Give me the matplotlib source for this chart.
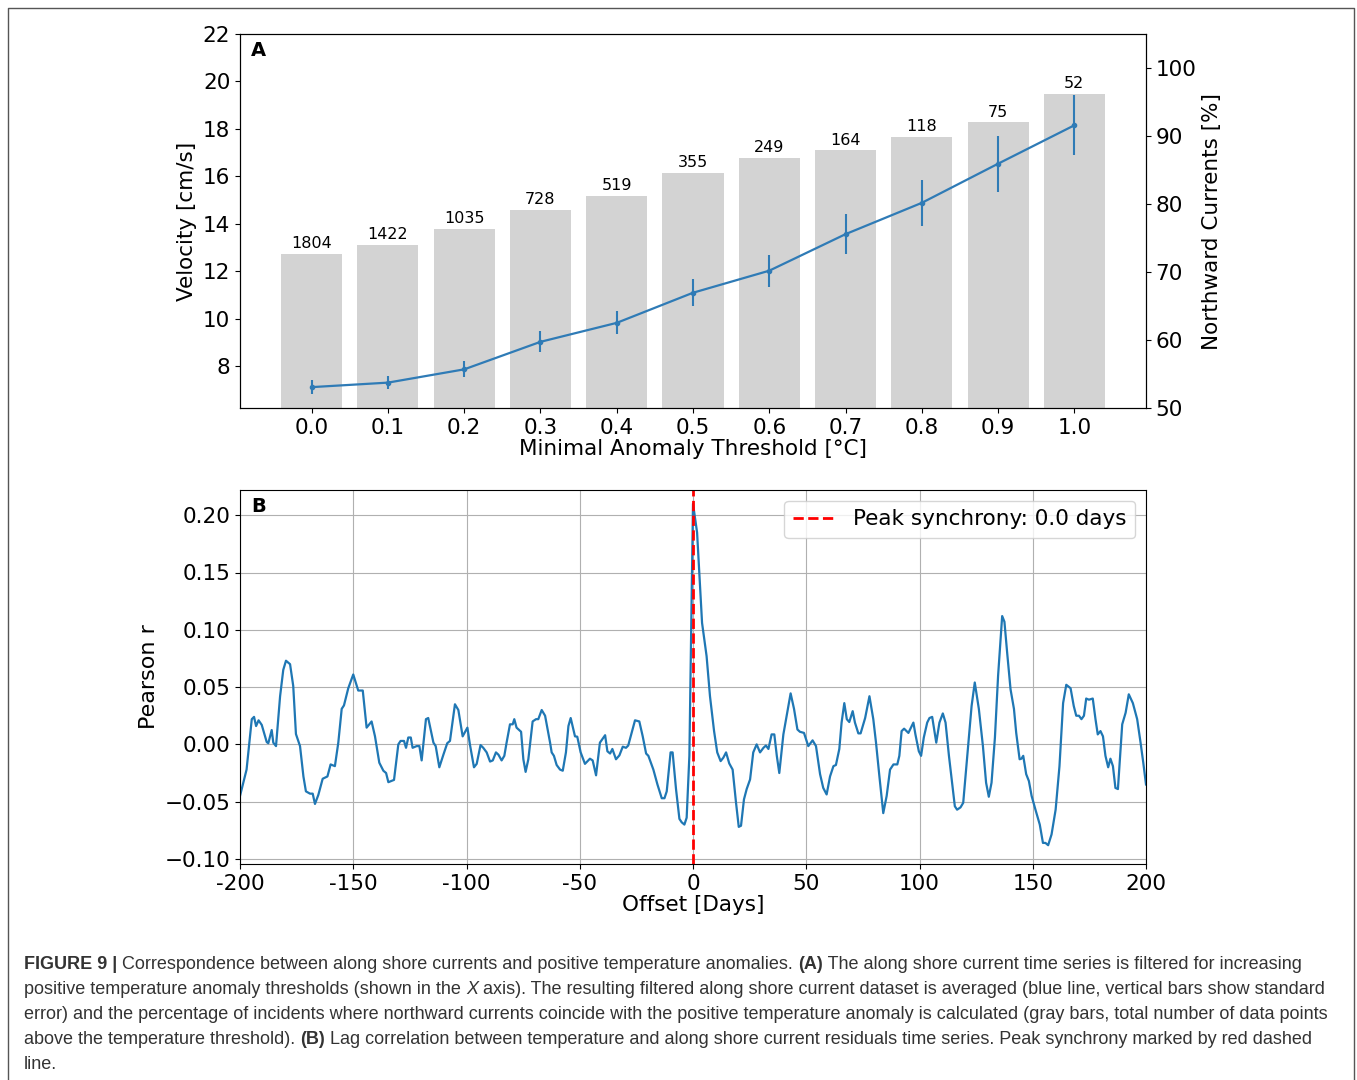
import matplotlib
matplotlib.use("Agg")
import matplotlib.pyplot as plt
from matplotlib import font_manager
from matplotlib.lines import Line2D

# Panel A data
thresholds = [0.0, 0.1, 0.2, 0.3, 0.4, 0.5, 0.6, 0.7, 0.8, 0.9, 1.0]
northward_pct = [72.7, 74.0, 76.3, 79.1, 81.2, 84.6, 86.8, 87.9, 89.9, 92.0, 96.2]
n_points = [1804, 1422, 1035, 728, 519, 355, 249, 164, 118, 75, 52]
velocity = [7.11, 7.30, 7.86, 9.02, 9.82, 11.09, 12.02, 13.56, 14.88, 16.53, 18.15]
velocity_err = [0.28, 0.28, 0.34, 0.44, 0.49, 0.57, 0.68, 0.85, 0.97, 1.18, 1.27]

# Panel B data (lag correlation)
lag_days = [
    -200.0, -197.1, -194.8, -193.8, -192.9, -191.8, -190.4, -188.2, -187.5, -186.0,
    -185.3, -184.1, -182.3, -180.9, -179.7, -177.9, -176.5, -175.3, -173.5, -172.0,
    -170.9, -169.1, -167.9, -166.9, -165.4, -163.5, -161.4, -160.0, -158.1, -156.6,
    -155.1, -154.1, -152.2, -150.0, -147.8, -145.8, -144.1, -141.9, -140.4, -138.5,
    -136.7, -135.5, -134.5, -132.0, -130.1, -129.1, -127.6, -126.7, -125.7, -124.6,
    -123.8, -122.0, -120.8, -119.8, -117.9, -116.9, -114.6, -113.6, -112.0, -110.2,
    -108.5, -107.3, -105.1, -103.6, -101.7, -99.6, -98.5, -96.7, -95.5, -93.8,
    -92.6, -91.1, -89.6, -88.4, -87.0, -85.9, -84.5, -83.3, -82.3, -80.8,
    -79.6, -78.9, -77.9, -75.9, -74.9, -73.9, -72.7, -70.8, -69.3, -68.3,
    -66.8, -65.3, -63.1, -62.4, -61.4, -60.2, -58.7, -57.5, -56.1, -55.0,
    -54.0, -52.1, -51.1, -49.6, -47.7, -45.5, -44.3, -42.8, -41.1, -38.8,
    -37.8, -36.6, -35.6, -34.0, -32.5, -31.0, -29.6, -28.6, -27.1, -25.6,
    -23.7, -22.2, -20.7, -19.7, -17.5, -15.7, -13.8, -12.6, -11.6, -9.9,
    -9.0, -7.5, -6.0, -5.0, -3.8, -2.8, -1.6, -0.8, 0.0, 1.8,
    4.0, 6.0, 7.5, 9.3, 10.7, 12.2, 13.4, 14.6, 16.0, 17.5,
    19.0, 20.2, 21.2, 22.5, 23.7, 25.2, 26.6, 28.1, 29.6, 31.1,
    32.2, 33.3, 34.7, 35.9, 37.0, 38.1, 39.9, 41.6, 43.1, 44.6,
    46.1, 47.2, 49.0, 50.9, 52.8, 54.3, 56.1, 57.5, 59.0, 60.5,
    62.0, 63.1, 64.6, 65.6, 66.8, 67.9, 69.0, 70.5, 71.5, 73.0,
    74.0, 76.0, 77.9, 79.6, 80.8, 82.3, 84.0, 85.5, 87.0, 88.5,
    90.2, 91.1, 92.1, 93.2, 95.1, 97.3, 98.2, 99.7, 100.7, 101.9,
    103.4, 104.4, 105.6, 107.4, 108.8, 110.3, 111.5, 113.0, 114.4, 115.6,
    116.6, 118.1, 119.3, 121.1, 123.0, 124.4, 126.2, 128.0, 129.4, 130.6,
    131.8, 133.3, 134.7, 136.5, 137.5, 138.7, 140.2, 141.7, 142.7, 144.2,
    145.0, 145.8, 147.1, 148.3, 149.5, 151.2, 153.1, 154.5, 155.6, 156.8,
    158.3, 160.1, 161.8, 163.4, 164.8, 166.7, 168.1, 169.2, 170.4, 171.5,
    172.6, 173.6, 174.8, 176.5, 177.7, 178.7, 179.9, 181.0, 182.1, 183.3,
    184.3, 185.4, 186.5, 187.6, 189.5, 191.0, 192.4, 194.2, 196.1, 197.6,
    198.8, 200.0,
]
pearson_r = [
    -0.045, -0.022, 0.022, 0.024, 0.016, 0.021, 0.017, 0.002, 0.001, 0.0125,
    0.0015, -0.0015, 0.042, 0.065, 0.073, 0.070, 0.051, 0.009, -0.0015, -0.028,
    -0.041, -0.043, -0.043, -0.052, -0.044, -0.030, -0.028, -0.0175, -0.019, 0.0015,
    0.031, 0.034, 0.049, 0.061, 0.047, 0.047, 0.0146, 0.020, 0.007, -0.016,
    -0.023, -0.025, -0.033, -0.031, 0.0, 0.003, 0.003, -0.003, 0.006, 0.006,
    -0.003, -0.0015, -0.0015, -0.014, 0.022, 0.023, 0.0015, -0.0015, -0.020, -0.009,
    0.001, 0.003, 0.035, 0.030, 0.007, 0.0146, 0.0, -0.020, -0.017, -0.0006,
    -0.003, -0.007, -0.015, -0.014, -0.007, -0.009, -0.014, -0.010, 0.0015, 0.0175,
    0.0175, 0.022, 0.0146, 0.011, -0.013, -0.024, -0.013, 0.020, 0.022, 0.022,
    0.030, 0.025, 0.0015, -0.007, -0.010, -0.018, -0.022, -0.023, -0.007, 0.016,
    0.023, 0.007, 0.0067, -0.007, -0.017, -0.0125, -0.014, -0.027, 0.0015, 0.008,
    -0.006, -0.008, -0.004, -0.013, -0.0096, -0.002, -0.003, -0.001, 0.010, 0.021,
    0.020, 0.007, -0.008, -0.010, -0.022, -0.035, -0.047, -0.047, -0.041, -0.007,
    -0.007, -0.039, -0.065, -0.068, -0.070, -0.064, -0.010, 0.100, 0.210, 0.185,
    0.106, 0.077, 0.042, 0.0116, -0.007, -0.0146, -0.0116, -0.007, -0.0166, -0.022,
    -0.051, -0.072, -0.071, -0.048, -0.039, -0.0306, -0.007, 0.0, -0.007, -0.003,
    -0.001, -0.004, 0.0087, 0.0087, -0.010, -0.025, 0.0087, 0.028, 0.0445, 0.031,
    0.013, 0.011, 0.010, -0.0015, 0.0035, -0.0015, -0.026, -0.038, -0.0437, -0.028,
    -0.019, -0.018, -0.004, 0.019, 0.036, 0.022, 0.0195, 0.029, 0.019, 0.0096,
    0.0096, 0.023, 0.042, 0.022, 0.0015, -0.028, -0.060, -0.045, -0.022, -0.0175,
    -0.0175, -0.010, 0.0116, 0.0137, 0.010, 0.019, 0.0087, -0.006, -0.010, 0.006,
    0.019, 0.023, 0.024, 0.0015, 0.019, 0.027, 0.019, -0.010, -0.0335, -0.054,
    -0.057, -0.055, -0.051, -0.010, 0.0335, 0.054, 0.031, -0.0015, -0.0335, -0.0457,
    -0.0335, 0.006, 0.060, 0.112, 0.107, 0.080, 0.048, 0.031, 0.010, -0.013,
    -0.0125, -0.010, -0.026, -0.032, -0.045, -0.057, -0.070, -0.086, -0.086, -0.088,
    -0.0786, -0.057, -0.019, 0.036, 0.052, 0.049, 0.0335, 0.025, 0.025, 0.022,
    0.025, 0.040, 0.039, 0.040, 0.022, 0.0087, 0.0116, 0.007, -0.010, -0.020,
    -0.0125, -0.019, -0.038, -0.039, 0.0175, 0.0276, 0.0437, 0.036, 0.022, 0.0015,
    -0.016, -0.035,
]
peak_lag = 0.0
lag_ticks = [-200, -150, -100, -50, 0, 50, 100, 150, 200]
lag_ticklabels = ["-200", "-150", "-100", "-50", "0", "50", "100", "150", "200"]

W, H = 1357, 1080
fig = plt.figure(figsize=(W / 100, H / 100), dpi=100)

# ---- Panel A ----
ax = fig.add_axes([240 / W, 1 - 408 / H, 906 / W, 374 / H])
ax2 = ax.twinx()
ax2.bar(thresholds, northward_pct, width=0.08, color="lightgray")
for x, v, n in zip(thresholds, northward_pct, n_points):
    ax2.annotate(str(n), (x, v), xytext=(0, 2), textcoords="offset points",
                 ha="center", va="bottom", fontsize=11.5)
ax2.set_ylim(50, 105)
ax2.set_yticks([50, 60, 70, 80, 90, 100])
ax2.set_ylabel("Northward Currents [%]", fontsize=15.5)
ax2.tick_params(labelsize=15.5)

ax.errorbar(thresholds, velocity, yerr=velocity_err, color="#2f7bb6",
            marker=".", markersize=6, elinewidth=1.5, lw=1.6)
ax.set_zorder(ax2.get_zorder() + 1)
ax.patch.set_visible(False)
ax.set_ylim(6.23, 22)
ax.set_yticks([8, 10, 12, 14, 16, 18, 20, 22])
ax.set_xticks(thresholds)
ax.set_xlim(-0.094, 1.094)
ax.set_ylabel("Velocity [cm/s]", fontsize=15.5)
ax.set_xlabel("Minimal Anomaly Threshold [°C]", fontsize=15.5, labelpad=1)
ax.tick_params(labelsize=15.5)
ax.text(0.012, 0.98, "A", transform=ax.transAxes, fontsize=14,
        fontweight="bold", va="top", ha="left")

# ---- Panel B ----
bx = fig.add_axes([240 / W, 1 - 864 / H, 906 / W, 374 / H])
bx.plot(lag_days, pearson_r, color="#1f77b4", lw=1.6)
bx.axvline(peak_lag, color="r", ls="--", lw=2,
           label="Peak synchrony: %.1f days" % peak_lag)
bx.set_xlim(-200, 200)
bx.set_ylim(-0.1044, 0.222)
bx.set_xticks(lag_ticks)
bx.set_xticklabels(lag_ticklabels)
bx.set_yticks([-0.10, -0.05, 0.0, 0.05, 0.10, 0.15, 0.20])
bx.tick_params(labelsize=15.5)
bx.grid(True)
bx.set_ylabel("Pearson r", fontsize=16)
bx.set_xlabel("Offset [Days]", fontsize=15.5, labelpad=1)
bx.legend(loc="upper right", fontsize=15.5)
bx.text(0.012, 0.98, "B", transform=bx.transAxes, fontsize=14,
        fontweight="bold", va="top", ha="left")

# ---- frame around figure ----
x0, x1, y0 = 8 / W, 1354 / W, 1 - 8 / H
fig.add_artist(Line2D([x0, x0, x1, x1], [0, y0, y0, 0], transform=fig.transFigure,
                      color="#555555", lw=1))

# ---- caption ----
names = {f.name for f in font_manager.fontManager.ttflist}
cap_font = "Liberation Sans Narrow" if "Liberation Sans Narrow" in names else "Liberation Sans"

caption = [
    [("FIGURE 9 | ", "bold", "normal"),
     ("Correspondence between along shore currents and positive temperature anomalies. ", "normal", "normal"),
     ("(A)", "bold", "normal"),
     (" The along shore current time series is filtered for increasing", "normal", "normal")],
    [("positive temperature anomaly thresholds (shown in the ", "normal", "normal"),
     ("X", "normal", "italic"),
     (" axis). The resulting filtered along shore current dataset is averaged (blue line, vertical bars show standard", "normal", "normal")],
    [("error) and the percentage of incidents where northward currents coincide with the positive temperature anomaly is calculated (gray bars, total number of data points", "normal", "normal")],
    [("above the temperature threshold). ", "normal", "normal"),
     ("(B)", "bold", "normal"),
     (" Lag correlation between temperature and along shore current residuals time series. Peak synchrony marked by red dashed", "normal", "normal")],
    [("line.", "normal", "normal")],
]
renderer = fig.canvas.get_renderer()


def draw_line(segs, y_px, size, draw=True):
    x = 24.0
    arts = []
    for s, wt, st in segs:
        t = fig.text(x / W, 1 - y_px / H, s, fontsize=size, fontweight=wt,
                     fontstyle=st, family=cap_font, color="#333333", va="baseline")
        x += t.get_window_extent(renderer).width
        arts.append(t)
    if not draw:
        for t in arts:
            t.remove()
    return x - 24.0


base = 12.0
w = draw_line(caption[0], 969, base, draw=False)
size = base * 1279.0 / w
for i, segs in enumerate(caption):
    draw_line(segs, 969 + 25 * i, size)

fig.savefig("out.png", dpi=100)
